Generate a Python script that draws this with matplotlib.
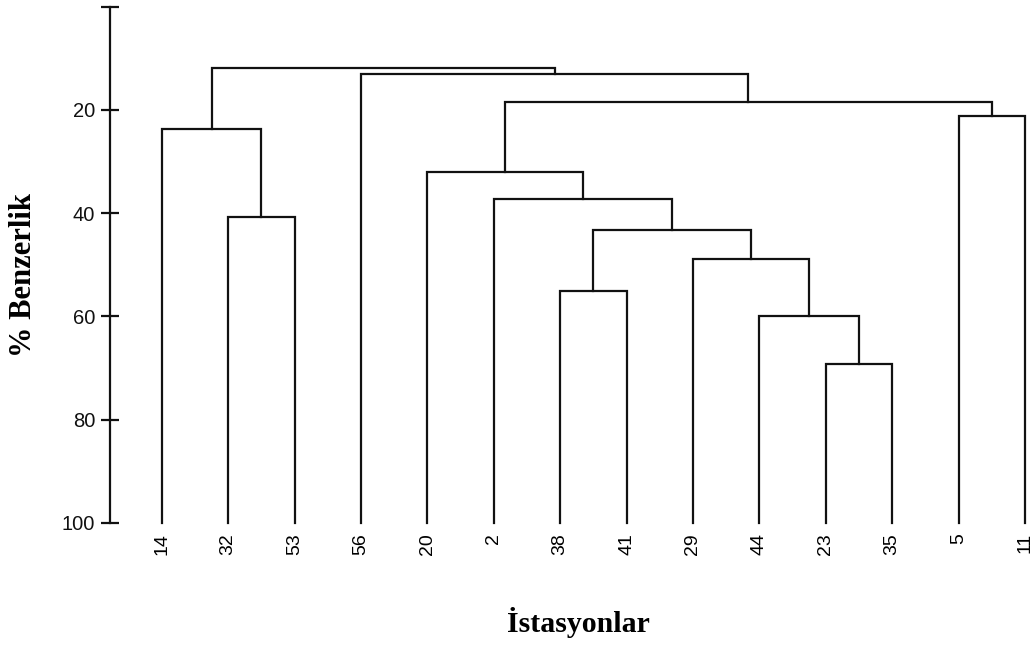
import matplotlib
matplotlib.use("Agg")
import matplotlib.pyplot as plt

# Leaf labels in display order
leaf_labels = ['14', '32', '53', '56', '20', '2', '38', '41', '29', '44', '23', '35', '5', '11']

# Merges (scipy-linkage style ids: leaves 0..13, clusters 14..)
merge_left = [1, 0, 10, 9, 8, 6, 19, 5, 4, 12, 22, 3, 15]
merge_right = [2, 14, 11, 16, 17, 7, 18, 20, 21, 13, 23, 24, 25]
merge_height = [40.7, 23.7, 69.3, 60.0, 48.8, 55.1, 43.2, 37.2, 32.0, 21.1, 18.5, 13.0, 11.8]

y_ticks = [0, 20, 40, 60, 80, 100]
y_tick_labels = ['', '20', '40', '60', '80', '100']

fig = plt.figure(figsize=(10.33, 6.45), dpi=100)
W, H = 1033, 645
ax = fig.add_axes([110 / W, (H - 522.7) / H, (1033 - 110) / W, (522.7 - 6.8) / H])

n = len(leaf_labels)
pos = {i: float(i + 1) for i in range(n)}
hgt = {i: 100.0 for i in range(n)}
lw = 1.6
col = '#111111'
for k, (a, b, h) in enumerate(zip(merge_left, merge_right, merge_height)):
    xa, xb = pos[a], pos[b]
    ax.plot([xa, xa, xb, xb], [hgt[a], h, h, hgt[b]], color=col, lw=lw,
            solid_joinstyle='miter', clip_on=False)
    pos[n + k] = (xa + xb) / 2
    hgt[n + k] = h

ax.set_ylim(100, 0)
ax.set_xlim(1 - (161.7 - 110) / 66.4, 14.12)
for s in ['top', 'right', 'bottom']:
    ax.spines[s].set_visible(False)
ax.spines['left'].set_linewidth(1.6)
ax.spines['left'].set_color(col)

ax.set_yticks(y_ticks)
ax.set_yticklabels(y_tick_labels, family='Liberation Sans', fontsize=14.5)
ax.tick_params(axis='y', direction='inout', length=12.5, width=1.6, pad=4.5, colors=col)

ax.set_xticks([i + 1 for i in range(n)])
ax.set_xticklabels(leaf_labels, rotation=90, family='Liberation Sans', fontsize=14)
ax.tick_params(axis='x', length=0, pad=7.5)

fig.text(24 / W, 1 - 275 / H, '% Benzerlik', rotation=90, ha='center', va='center',
         family='Liberation Serif', weight='bold', fontsize=22)
fig.text(578 / W, 1 - 623 / H, 'İstasyonlar', ha='center', va='center',
         family='Liberation Serif', weight='bold', fontsize=21.5)

fig.savefig('out.png', dpi=100)
